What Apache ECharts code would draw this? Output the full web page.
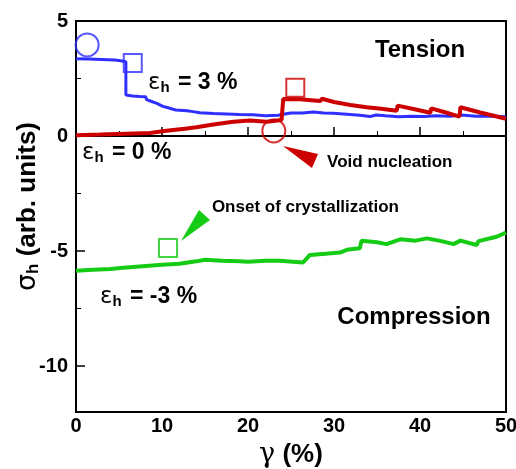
<!DOCTYPE html>
<html><head><meta charset="utf-8">
<script src="https://cdn.jsdelivr.net/npm/echarts@6/dist/echarts.min.js"></script>
<style>html,body{margin:0;padding:0;background:#fff}#c{width:516px;height:469px}</style>
</head><body><div id="c"></div>
<script>
// ---- data (gamma %, sigma_h arb. units) ----
const blueX = [0, 1.5, 3, 4.5, 5.2, 5.8, 5.8, 6.6, 7.4, 8.1, 8.2, 8.8, 9.4, 10.1, 10.5, 11.6, 12.9, 13.6, 14.4, 16.0, 17.5, 19.0, 20.6, 22.0, 23.5, 24.1, 25.0, 26.3, 27.6, 28.8, 29.9, 31.5, 33.0, 34.2, 34.9, 36.0, 37.5, 39.0, 40.5, 41.8, 43.5, 44.8, 46.5, 48.0, 50];
const blueY = [3.36, 3.35, 3.33, 3.3, 3.27, 3.23, 1.78, 1.74, 1.72, 1.71, 1.58, 1.5, 1.42, 1.29, 1.25, 1.13, 1.1, 1.06, 1.01, 0.98, 0.96, 0.93, 0.92, 0.88, 0.9, 0.95, 1.0, 1.0, 1.04, 1.0, 0.99, 0.95, 0.9, 0.85, 0.91, 0.88, 0.84, 0.86, 0.85, 0.88, 0.86, 0.91, 0.86, 0.87, 0.84];
const redX = [0, 2.8, 5.8, 8.6, 8.8, 10.5, 12.9, 14.0, 15.6, 17.0, 18.3, 20.2, 22.2, 23.9, 24.1, 26.0, 28.4, 28.6, 30.0, 31.9, 33.8, 35.5, 37.3, 37.4, 39.5, 41.2, 41.3, 43.0, 44.6, 44.7, 47.0, 50];
const redY = [0.03, 0.06, 0.1, 0.13, 0.2, 0.23, 0.33, 0.38, 0.48, 0.55, 0.62, 0.67, 0.62, 0.7, 1.61, 1.6, 1.52, 1.62, 1.48, 1.35, 1.25, 1.18, 1.1, 1.32, 1.15, 1.01, 1.2, 1.02, 0.84, 1.25, 1.02, 0.75];
const greenX = [0, 2, 4, 5.5, 7, 8.5, 10, 12, 14, 15, 17, 19, 20, 22, 23.7, 26.4, 27.2, 29, 30.7, 31.5, 33.0, 33.2, 35, 36.1, 37.7, 39.5, 40.8, 42.5, 43.9, 44.7, 46.6, 46.8, 48.9, 50];
const greenY = [-5.86, -5.82, -5.78, -5.73, -5.68, -5.64, -5.6, -5.55, -5.45, -5.38, -5.42, -5.45, -5.47, -5.42, -5.42, -5.5, -5.17, -5.12, -5.07, -4.95, -4.88, -4.55, -4.62, -4.7, -4.49, -4.55, -4.45, -4.57, -4.7, -4.55, -4.74, -4.57, -4.38, -4.2];

const xTicks = [0, 10, 20, 30, 40, 50];
const yTicks = [-10, -5, 0, 5];
const yMinorTicks = [-7.5, -2.5, 2.5];

// annotation markers (data coords)
const blueCircle = [[1.3, 3.96]];
const blueSquare = [[6.6, 3.17]];
const redCircle = [[23.0, 0.22]];
const redSquare = [[25.5, 2.1]];
const greenSquare = [[10.7, -4.87]];
const redArrow = [[24.07, -0.43], [28.14, -0.78], [27.44, -1.39]];
const greenArrow = [[12.21, -4.57], [14.3, -3.22], [15.58, -3.65]];

// text annotations (anchor in data coords)
const labelEps3 = [8.37, 2.3];
const labelEps0 = [0.7, -0.74];
const labelEpsM3 = [2.79, -7.0];
const labelTension = [40, 3.74];
const labelCompression = [39.3, -7.87];
const labelVoid = [29.2, -1.13];
const labelOnset = [15.8, -3.09];

const BLUE = '#2f2fff', RED = '#cc0000', GREEN = '#14cc14';
const FONT = 'Liberation Sans, Arial, sans-serif';

function zip(xs, ys) { return xs.map((x, i) => [x, ys[i]]); }

const chart = echarts.init(document.getElementById('c'), null, {renderer: 'canvas'});

function marker(data, symbol, size, color) {
  return {
    type: 'scatter', data: data, symbol: symbol, symbolSize: size, z: 5, silent: true,
    itemStyle: {color: 'rgba(0,0,0,0)', borderColor: color, borderWidth: 2}
  };
}

chart.setOption({
  animation: false,
  backgroundColor: '#fff',
  grid: {left: 76, right: 10, top: 21, bottom: 57, show: true, borderColor: '#000', borderWidth: 2,
    containLabel: false, outerBoundsMode: 'none'},
  xAxis: {
    type: 'value', min: 0, max: 50, interval: 10,
    axisLine: {lineStyle: {color: '#000', width: 2}},
    axisTick: {inside: true, length: 9, lineStyle: {color: '#000', width: 1.5}},
    minorTick: {show: true, splitNumber: 2, length: 5, lineStyle: {color: '#000', width: 1}},
    splitLine: {show: false},
    axisLabel: {color: '#000', fontFamily: FONT, fontWeight: 'bold', fontSize: 20, margin: 4,
      formatter: v => xTicks.includes(v) ? String(v) : ''},
    name: '{g|γ}{a| (%)}', nameLocation: 'middle', nameGap: 29, nameMoveOverlap: false,
    nameTextStyle: {rich: {
      g: {fontFamily: 'DejaVu Serif, serif', fontSize: 27, color: '#000'},
      a: {fontFamily: FONT, fontWeight: 'bold', fontSize: 26, color: '#000'}
    }}
  },
  yAxis: [{
    type: 'value', min: -12, max: 5,
    axisLine: {lineStyle: {color: '#000', width: 2}},
    axisTick: {inside: true, length: 9, customValues: yTicks, lineStyle: {color: '#000', width: 1.5}},
    splitLine: {show: false},
    axisLabel: {color: '#000', fontFamily: FONT, fontWeight: 'bold', fontSize: 20, margin: 8, customValues: yTicks},
    name: '{s|σ}{h|h}{a| (arb. units)}', nameLocation: 'middle', nameGap: 34, nameRotate: 90,
    nameMoveOverlap: false,
    nameTextStyle: {padding: [0, 0, 0, 20], rich: {
      s: {fontFamily: 'DejaVu Sans, sans-serif', fontSize: 27, color: '#000'},
      h: {fontFamily: FONT, fontWeight: 'bold', fontSize: 17, color: '#000', padding: [12, 0, 0, 0]},
      a: {fontFamily: FONT, fontWeight: 'bold', fontSize: 26, color: '#000'}
    }}
  }, {
    type: 'value', min: -12, max: 5, position: 'left',
    axisLine: {show: false},
    axisTick: {inside: true, length: 5, customValues: yMinorTicks, lineStyle: {color: '#000', width: 1}},
    axisLabel: {show: false},
    splitLine: {show: false}
  }],
  series: [
    {type: 'line', name: 'eps3', data: zip(blueX, blueY), showSymbol: false, z: 3,
      lineStyle: {color: BLUE, width: 3}, itemStyle: {color: BLUE}},
    {type: 'line', name: 'eps0', data: zip(redX, redY), showSymbol: false, z: 4,
      lineStyle: {color: RED, width: 4}, itemStyle: {color: RED}},
    {type: 'line', name: 'epsm3', data: zip(greenX, greenY), showSymbol: false, z: 3,
      lineStyle: {color: GREEN, width: 4}, itemStyle: {color: GREEN}},
    marker(blueCircle, 'circle', 23, BLUE),
    marker(blueSquare, 'rect', 18, BLUE),
    marker(redCircle, 'circle', 23, RED),
    marker(redSquare, 'rect', 18, RED),
    marker(greenSquare, 'rect', 18, GREEN)
  ]
});

function px(p) { return chart.convertToPixel({gridIndex: 0}, p); }

function epsText(p, val) {
  const q = px(p);
  return {
    type: 'text', x: q[0], y: q[1], z: 10,
    style: {
      text: '{e|ε}{h|h}{m| = ' + val + ' %}',
      verticalAlign: 'middle', align: 'left',
      rich: {
        e: {fontFamily: 'DejaVu Sans, sans-serif', fontSize: 23, fill: '#000'},
        h: {fontFamily: FONT, fontWeight: 'bold', fontSize: 15, fill: '#000', padding: [10, 2, 0, 0]},
        m: {fontFamily: FONT, fontWeight: 'bold', fontSize: 23, fill: '#000'}
      }
    }
  };
}
function plainText(p, txt, size, align) {
  const q = px(p);
  return {
    type: 'text', x: q[0], y: q[1], z: 10,
    style: {text: txt, fontFamily: FONT, fontWeight: 'bold', fontSize: size, fill: '#000',
      align: align, verticalAlign: 'middle'}
  };
}
function tri(pts, color) {
  return {type: 'polygon', z: 6, shape: {points: pts.map(px)}, style: {fill: color}};
}

chart.setOption({
  graphic: [
    epsText(labelEps3, '3'),
    epsText(labelEps0, '0'),
    epsText(labelEpsM3, '-3'),
    plainText(labelTension, 'Tension', 24, 'center'),
    plainText(labelCompression, 'Compression', 24, 'center'),
    plainText(labelVoid, 'Void nucleation', 17, 'left'),
    plainText(labelOnset, 'Onset of crystallization', 17, 'left'),
    tri(redArrow, RED),
    tri(greenArrow, GREEN)
  ]
});
</script>
</body></html>
